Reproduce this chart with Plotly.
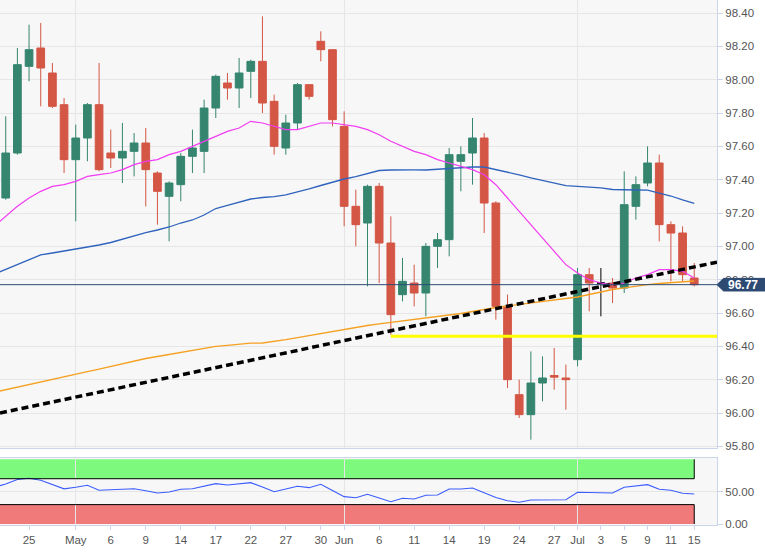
import plotly.graph_objects as go

# ---------------- data ----------------
dates = [
    "2019-04-22", "2019-04-23", "2019-04-24", "2019-04-25", "2019-04-26",
    "2019-04-29", "2019-04-30", "2019-05-01", "2019-05-02", "2019-05-03",
    "2019-05-06", "2019-05-07", "2019-05-08", "2019-05-09", "2019-05-10",
    "2019-05-13", "2019-05-14", "2019-05-15", "2019-05-16", "2019-05-17",
    "2019-05-20", "2019-05-21", "2019-05-22", "2019-05-23", "2019-05-24",
    "2019-05-27", "2019-05-28", "2019-05-29", "2019-05-30", "2019-05-31",
    "2019-06-03", "2019-06-04", "2019-06-05", "2019-06-06", "2019-06-07",
    "2019-06-10", "2019-06-11", "2019-06-12", "2019-06-13", "2019-06-14",
    "2019-06-17", "2019-06-18", "2019-06-19", "2019-06-20", "2019-06-21",
    "2019-06-24", "2019-06-25", "2019-06-26", "2019-06-27", "2019-06-28",
    "2019-07-01", "2019-07-02", "2019-07-03", "2019-07-04", "2019-07-05",
    "2019-07-08", "2019-07-09", "2019-07-10", "2019-07-11", "2019-07-12",
    "2019-07-15",
]

open_ = [None,
    97.29, 97.56, 98.08, 98.19, 98.04, 97.85, 97.52, 97.65, 97.85, 97.56,
    97.53, 97.57, 97.62, 97.44, 97.30, 97.37, 97.54, 97.57, 97.83, 97.98,
    97.95, 98.05, 98.11, 97.87, 97.59, 97.74, 97.97, 98.23, 98.18, 97.72,
    97.24, 97.14, 97.36, 97.02, 96.71, 96.78, 96.72, 97.00, 97.04, 97.51,
    97.56, 97.65, 97.26, 96.64, 96.11, 95.99, 96.18, 96.225, 96.21, 96.32,
    96.83, 96.78, 96.78, 96.75, 97.24, 97.38, 97.50, 97.13, 97.08, 96.81]
high = [None,
    97.78, 98.19, 98.33, 98.34, 98.10, 97.89, 97.73, 97.86, 98.10, 97.70,
    97.74, 97.68, 97.71, 97.45, 97.39, 97.56, 97.70, 97.88, 98.03, 98.04,
    98.13, 98.12, 98.38, 97.91, 97.79, 97.98, 97.97, 98.29, 98.18, 97.81,
    97.34, 97.37, 97.38, 97.18, 96.93, 96.89, 97.02, 97.08, 97.59, 97.60,
    97.77, 97.68, 97.27, 96.71, 96.20, 96.37, 96.34, 96.39, 96.29, 96.87,
    96.87, 96.87, 96.81, 97.45, 97.42, 97.60, 97.55, 97.15, 97.12, 96.90]
low = [None,
    97.28, 97.55, 97.99, 97.84, 97.83, 97.44, 97.15, 97.51, 97.45, 97.47,
    97.38, 97.42, 97.24, 97.13, 97.03, 97.27, 97.44, 97.44, 97.77, 97.88,
    97.83, 97.89, 97.80, 97.55, 97.55, 97.70, 97.88, 98.11, 97.72, 97.12,
    97.00, 96.76, 96.78, 96.47, 96.67, 96.64, 96.58, 96.87, 96.94, 97.33,
    97.37, 97.08, 96.56, 96.15, 95.97, 95.84, 96.07, 96.14, 96.02, 96.28,
    96.61, 96.58, 96.66, 96.72, 97.16, 97.36, 97.03, 96.79, 96.79, 96.76]
close = [None,
    97.56, 98.09, 98.18, 98.07, 97.84, 97.52, 97.65, 97.85, 97.46, 97.53,
    97.57, 97.62, 97.46, 97.33, 97.38, 97.54, 97.59, 97.83, 98.02, 97.95,
    98.04, 98.11, 97.86, 97.60, 97.74, 97.97, 97.90, 98.18, 97.76, 97.24,
    97.13, 97.36, 97.02, 96.59, 96.79, 96.72, 97.00, 97.04, 97.55, 97.55,
    97.65, 97.26, 96.64, 96.20, 95.99, 96.18, 96.21, 96.215, 96.20, 96.83,
    96.78, 96.78, 96.75, 97.25, 97.37, 97.50, 97.13, 97.08, 96.83, 96.77]

sma_fast = [
    97.12, 97.18, 97.24, 97.29, 97.33, 97.36, 97.37, 97.39, 97.42, 97.43,
    97.44, 97.46, 97.49, 97.51, 97.52, 97.55, 97.57, 97.60, 97.63, 97.66,
    97.69, 97.71, 97.75, 97.74, 97.72, 97.70, 97.70, 97.72, 97.74, 97.74,
    97.73, 97.72, 97.70, 97.67, 97.63, 97.60, 97.57, 97.55, 97.52, 97.50,
    97.48, 97.46, 97.43, 97.37, 97.29, 97.21, 97.13, 97.05, 96.97, 96.89,
    96.84, 96.80, 96.78, 96.77, 96.78, 96.81, 96.83, 96.86, 96.86, 96.85,
    96.81]
sma_mid = [
    96.833, 96.862, 96.892, 96.921, 96.949, 96.960, 96.971, 96.982, 96.995, 97.008,
    97.023, 97.044, 97.063, 97.082, 97.098, 97.116, 97.140, 97.158, 97.188, 97.227,
    97.246, 97.266, 97.284, 97.293, 97.298, 97.309, 97.326, 97.345, 97.365, 97.386,
    97.404, 97.418, 97.437, 97.455, 97.458, 97.460, 97.459, 97.458, 97.462, 97.468,
    97.473, 97.476, 97.476, 97.461, 97.446, 97.429, 97.411, 97.396, 97.380, 97.364,
    97.360, 97.356, 97.351, 97.341, 97.338, 97.338, 97.337, 97.319, 97.302, 97.279,
    97.258]
sma_slow = [
    96.124, 96.140, 96.155, 96.170, 96.186, 96.201, 96.216, 96.232, 96.248, 96.263,
    96.279, 96.297, 96.311, 96.327, 96.339, 96.351, 96.363, 96.376, 96.388, 96.400,
    96.406, 96.412, 96.419, 96.420, 96.429, 96.440, 96.452, 96.464, 96.477, 96.492,
    96.504, 96.515, 96.525, 96.535, 96.544, 96.552, 96.560, 96.568, 96.577, 96.587,
    96.597, 96.609, 96.622, 96.633, 96.642, 96.651, 96.660, 96.669, 96.678, 96.687,
    96.696, 96.711, 96.726, 96.741, 96.751, 96.762, 96.770, 96.777, 96.782, 96.787,
    96.792]
rsi = [
    56.7, 61.9, 68.9, 70.7, 67.6, 61.0, 54.3, 56.8, 59.9, 52.2,
    53.1, 53.9, 54.6, 51.4, 48.0, 49.5, 53.7, 54.6, 58.8, 62.4,
    60.4, 62.1, 63.9, 57.3, 50.0, 54.2, 58.4, 56.2, 61.5, 51.9,
    42.3, 40.7, 46.0, 40.2, 34.5, 39.8, 38.7, 44.4, 44.9, 54.2,
    54.2, 55.7, 48.5, 41.0, 36.1, 33.6, 37.2, 37.6, 37.6, 37.6,
    49.1, 48.5, 48.3, 48.0, 56.8, 58.8, 60.8, 53.7, 52.2, 47.5,
    46.4]

tick_dates = ["2019-04-25", "2019-05-01", "2019-05-06", "2019-05-09", "2019-05-14",
              "2019-05-17", "2019-05-22", "2019-05-27", "2019-05-30", "2019-06-03",
              "2019-06-06", "2019-06-11", "2019-06-14", "2019-06-19", "2019-06-24",
              "2019-06-27", "2019-07-01", "2019-07-03", "2019-07-05", "2019-07-09",
              "2019-07-11", "2019-07-15"]
tick_labels = ["25", "May", "6", "9", "14", "17", "22", "27", "30", "Jun", "6",
               "11", "14", "19", "24", "27", "Jul", "3", "5", "9", "11", "15"]
month_starts = ["2019-05-01", "2019-06-03", "2019-07-01"]

price_ticks = [95.8, 96.0, 96.2, 96.4, 96.6, 96.8, 97.0, 97.2, 97.4, 97.6, 97.8, 98.0, 98.2, 98.4]
trend_values = [96.00, 96.905]     # trendline at left / right edge of the view
support_level = 96.46
support_start = "2019-06-07"
rsi_upper_band = [70, 100]
rsi_lower_band = [0, 30]

# ---------------- derived ----------------
x = list(range(len(dates)))
idx = {d: i for i, d in enumerate(dates)}
x_lo, x_hi = 0.51, 61.95
last_close = close[-1]

is_doji = [o is not None and c is not None and abs(o - c) < 1e-9 for o, c in zip(open_, close)]
def pick(arr, want):
    return [v if (d == want) else None for v, d in zip(arr, is_doji)]

FONT = "Liberation Sans, Arial, sans-serif"
GREEN = "#35856f"
RED = "#d45645"
GRID = "#e6e6e6"
AXL = "#ccd6eb"
NAVY = "#2d4a73"

fig = go.Figure()

fig.add_trace(go.Candlestick(
    x=x, open=pick(open_, False), high=pick(high, False), low=pick(low, False), close=pick(close, False),
    increasing=dict(fillcolor=GREEN, line=dict(color=GREEN, width=1)),
    decreasing=dict(fillcolor=RED, line=dict(color=RED, width=1)),
    whiskerwidth=0, xaxis="x", yaxis="y", hoverinfo="skip"))
fig.add_trace(go.Candlestick(
    x=x, open=pick(open_, True), high=pick(high, True), low=pick(low, True), close=pick(close, True),
    increasing=dict(fillcolor="black", line=dict(color="black", width=1)),
    decreasing=dict(fillcolor="black", line=dict(color="black", width=1)),
    whiskerwidth=0, xaxis="x", yaxis="y", hoverinfo="skip"))

fig.add_trace(go.Scatter(x=x, y=sma_slow, mode="lines", line=dict(color="#f5a020", width=1.3),
                         xaxis="x", yaxis="y"))
fig.add_trace(go.Scatter(x=x, y=sma_mid, mode="lines", line=dict(color="#2f63bd", width=1.3),
                         xaxis="x", yaxis="y"))
fig.add_trace(go.Scatter(x=x, y=sma_fast, mode="lines", line=dict(color="#f23cf2", width=1.2),
                         xaxis="x", yaxis="y"))
fig.add_trace(go.Scatter(x=[x_lo, x_hi], y=trend_values, mode="lines",
                         line=dict(color="black", width=3.5, dash="7px,4px"),
                         xaxis="x", yaxis="y"))
fig.add_trace(go.Scatter(x=[idx[support_start], x_hi], y=[support_level, support_level], mode="lines",
                         line=dict(color="#ffff00", width=3), xaxis="x", yaxis="y"))

fig.add_trace(go.Scatter(x=x, y=rsi, mode="lines", line=dict(color="#3a5cff", width=1.1),
                         xaxis="x2", yaxis="y2"))

shapes = []
x_end = idx[dates[-1]]
# RSI bands
shapes.append(dict(type="rect", xref="x2", yref="y2", x0=x_lo, x1=x_end,
                   y0=rsi_upper_band[0], y1=rsi_upper_band[1], fillcolor="#7dfa7d",
                   line=dict(width=0), layer="below"))
shapes.append(dict(type="rect", xref="x2", yref="y2", x0=x_lo, x1=x_end,
                   y0=rsi_lower_band[0], y1=rsi_lower_band[1], fillcolor="#f07a7a",
                   line=dict(width=0), layer="below"))
shapes.append(dict(type="path", xref="x2", yref="y2",
                   path=f"M {x_lo},{rsi_upper_band[0]} L {x_end},{rsi_upper_band[0]} L {x_end},{rsi_upper_band[1]}",
                   line=dict(color="black", width=1), layer="above"))
shapes.append(dict(type="path", xref="x2", yref="y2",
                   path=f"M {x_lo},{rsi_lower_band[1]} L {x_end},{rsi_lower_band[1]} L {x_end},{rsi_lower_band[0]}",
                   line=dict(color="black", width=1), layer="above"))
# current price line
shapes.append(dict(type="line", xref="paper", yref="y", x0=0, x1=1, y0=last_close, y1=last_close,
                   line=dict(color=NAVY, width=1), layer="above"))
# price label box
PW = 717.0
xt, xl, xr = 1.0, 723.5 / PW, 766 / PW
h = 6.3 / 166.7
shapes.append(dict(type="path", xref="paper", yref="y",
                   path=(f"M {xt},{last_close} L {xl},{last_close + h} L {xr},{last_close + h} "
                         f"L {xr},{last_close - h} L {xl},{last_close - h} Z"),
                   fillcolor=NAVY, line=dict(color=NAVY, width=1), layer="above"))

annotations = [dict(xref="paper", yref="y", x=743.5 / PW, y=last_close, text=f"<b>{last_close:.2f}</b>",
                    showarrow=False, xanchor="center", yanchor="middle",
                    font=dict(family=FONT, size=12, color="white"))]

tickvals = [idx[d] for d in tick_dates]
minor_vals = [idx[d] for d in month_starts]

fig.update_layout(
    width=765, height=552,
    margin=dict(l=0, r=48, t=0, b=27),
    paper_bgcolor="white", plot_bgcolor="#f7f7f7",
    showlegend=False, hovermode=False,
    boxgap=0.34, boxgroupgap=0,
    font=dict(family=FONT, size=11, color="#555555"),
    shapes=shapes, annotations=annotations,
    xaxis=dict(domain=[0, 1], anchor="y", range=[x_lo, x_hi], showticklabels=False,
               showgrid=False, zeroline=False, showline=True, linecolor=AXL, linewidth=1,
               tickvals=tickvals, ticks="", rangeslider=dict(visible=False),
               minor=dict(tickvals=minor_vals, showgrid=True, gridcolor=GRID, gridwidth=1, ticks="")),
    yaxis=dict(domain=[(525 - 448) / 525, 1], anchor="x", side="right", range=[95.79, 98.478],
               tickvals=price_ticks, ticktext=[f"{v:.2f}" for v in price_ticks],
               showgrid=True, gridcolor=GRID, gridwidth=1, zeroline=False,
               showline=True, linecolor=AXL, ticks="outside", ticklen=5, tickcolor=AXL,
               tickfont=dict(size=11.5, color="#555555")),
    xaxis2=dict(domain=[0, 1], anchor="y2", matches="x", range=[x_lo, x_hi],
                tickvals=tickvals, ticktext=tick_labels, showgrid=False, zeroline=False,
                showline=True, linecolor=AXL, mirror=True, ticks="outside", ticklen=4, tickcolor=AXL,
                tickfont=dict(size=11.5, color="#555555"), rangeslider=dict(visible=False),
                minor=dict(tickvals=minor_vals, showgrid=True, gridcolor=GRID, gridwidth=1, ticks="")),
    yaxis2=dict(domain=[0, (525 - 457.7) / 525], anchor="x2", side="right", range=[-1.5, 102.5],
                tickvals=[0, 50], ticktext=["0.00", "50.00"], showgrid=True, gridcolor=GRID,
                zeroline=False, showline=True, linecolor=AXL, ticks="outside", ticklen=5,
                tickcolor=AXL, tickfont=dict(size=11.5, color="#555555")),
)

fig.write_html("out.html")
